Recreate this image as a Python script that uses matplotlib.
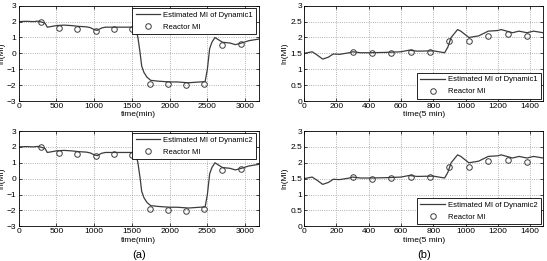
import matplotlib
matplotlib.use("Agg")
import matplotlib.pyplot as plt

plt.rcParams["font.family"] = ["Liberation Sans", "DejaVu Sans"]
plt.rcParams["font.size"] = 6

# (a) time in minutes
t_min = [0, 100, 200, 250, 300, 350, 380, 420, 500, 600, 700, 800, 900, 950,
         1000, 1040, 1100, 1150, 1300, 1400, 1500, 1550, 1580, 1610, 1630,
         1660, 1700, 1750, 1850, 2000, 2100, 2250, 2400, 2470, 2500, 2530,
         2560, 2600, 2650, 2700, 2800, 2870, 2950, 3050, 3180]
est_a = [2.0, 2.02, 2.0, 2.03, 1.98, 1.9, 1.65, 1.68, 1.75, 1.78, 1.75, 1.7,
         1.67, 1.62, 1.5, 1.45, 1.6, 1.65, 1.65, 1.65, 1.65, 1.62, 1.0, 0.0,
         -0.8, -1.2, -1.5, -1.7, -1.75, -1.8, -1.8, -1.85, -1.8, -1.78, -1.0,
         0.3, 0.7, 1.0, 0.85, 0.7, 0.65, 0.55, 0.65, 0.8, 0.9]
lab_t_min = [300, 540, 780, 1020, 1260, 1500, 1740, 1980, 2220, 2460, 2700, 2940]
lab_a = [2.0, 1.62, 1.55, 1.42, 1.55, 1.52, -1.9, -1.95, -2.02, -1.9, 0.55, 0.62]

# (b) time in 5 min steps
t_5 = [0, 50, 80, 115, 150, 180, 220, 280, 300, 350, 400, 500, 600, 650, 700,
       800, 870, 890, 910, 950, 970, 1020, 1080, 1140, 1200, 1220, 1290, 1330,
       1380, 1420, 1480]
est_b = [1.5, 1.55, 1.45, 1.32, 1.38, 1.48, 1.47, 1.52, 1.55, 1.52, 1.52,
         1.53, 1.55, 1.6, 1.57, 1.58, 1.52, 1.7, 2.0, 2.25, 2.2, 2.0, 2.05,
         2.2, 2.22, 2.25, 2.15, 2.2, 2.15, 2.2, 2.15]
lab_t_5 = [300, 420, 540, 660, 780, 900, 1020, 1140, 1260, 1380]
lab_b = [1.55, 1.5, 1.52, 1.55, 1.55, 1.88, 1.88, 2.05, 2.1, 2.04]

LINE = "#3c3c3c"

fig = plt.figure(figsize=(5.47, 2.61), dpi=100)

boxes = {
    (0, 0): [0.034, 0.613, 0.439, 0.365],
    (1, 0): [0.034, 0.613 - 0.48, 0.439, 0.365],
    (0, 1): [0.556, 0.613, 0.437, 0.365],
    (1, 1): [0.556, 0.613 - 0.48, 0.437, 0.365],
}

for (r, c), box in boxes.items():
    ax = fig.add_axes(box)
    name = "Estimated MI of Dynamic%d" % (r + 1)
    if c == 0:
        ax.plot(t_min, est_a, color=LINE, lw=0.9, label=name)
        ax.plot(lab_t_min, lab_a, "o", mfc="none", mec=LINE, ms=4, mew=0.7,
                label="Reactor MI")
        ax.set_xlim(0, 3180)
        ax.set_ylim(-3, 3)
        ax.set_xticks([0, 500, 1000, 1500, 2000, 2500, 3000])
        ax.set_yticks([-3, -2, -1, 0, 1, 2, 3])
        ax.set_xlabel("time(min)", labelpad=1)
        loc = "upper right"
    else:
        ax.plot(t_5, est_b, color=LINE, lw=0.9, label=name)
        ax.plot(lab_t_5, lab_b, "o", mfc="none", mec=LINE, ms=4, mew=0.7,
                label="Reactor MI")
        ax.set_xlim(0, 1480)
        ax.set_ylim(0, 3)
        ax.set_xticks([0, 200, 400, 600, 800, 1000, 1200, 1400])
        ax.set_yticks([0, 0.5, 1, 1.5, 2, 2.5, 3])
        ax.set_yticklabels(["0", "0.5", "1", "1.5", "2", "2.5", "3"])
        ax.set_xlabel("time(5 min)", labelpad=1)
        loc = "lower right"
    ax.set_ylabel("ln(MI)", labelpad=1)
    ax.grid(True, ls=":", color="#999999", lw=0.6)
    ax.tick_params(direction="in", length=2, width=0.5, pad=1.5, top=True,
                   right=True)
    for s in ax.spines.values():
        s.set_linewidth(0.6)
    leg = ax.legend(loc=loc, fontsize=5.5, handlelength=3.2, fancybox=False,
                    edgecolor="black", framealpha=1, borderaxespad=0.3,
                    labelspacing=0.6, borderpad=0.45, handletextpad=0.4)
    leg.get_frame().set_linewidth(0.6)

fig.text(0.254, 0.01, "(a)", ha="center", fontsize=8)
fig.text(0.775, 0.01, "(b)", ha="center", fontsize=8)

fig.savefig("out.png", dpi=100)
